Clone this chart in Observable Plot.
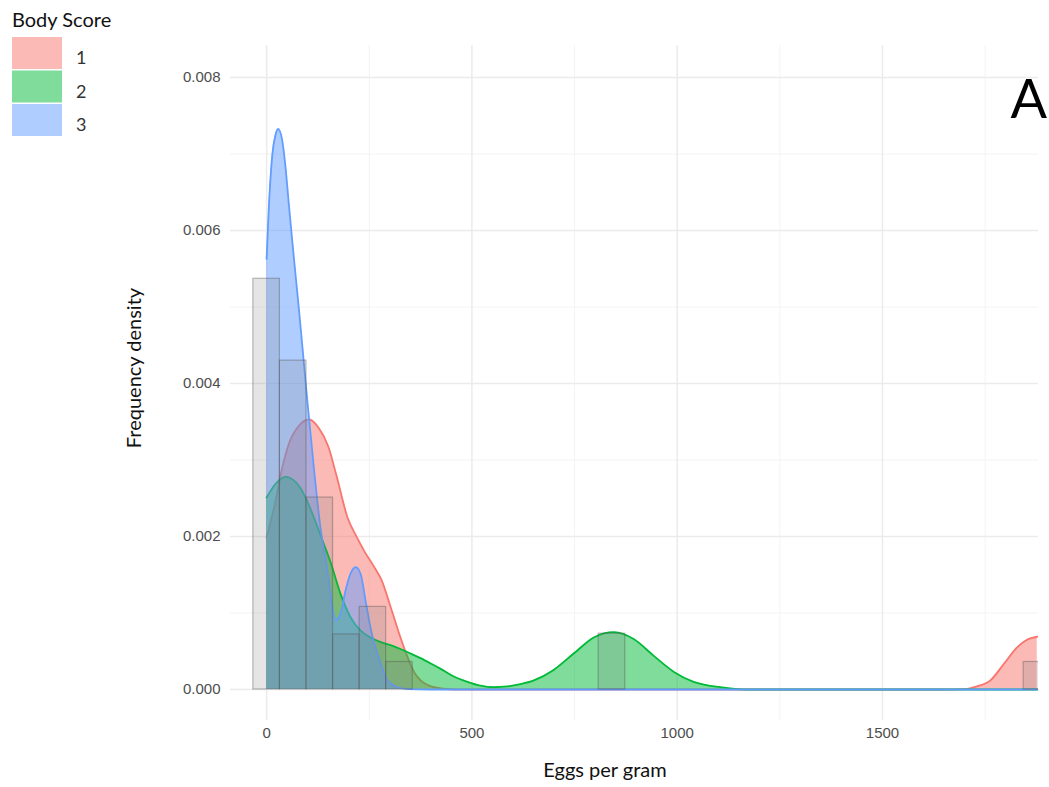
<!DOCTYPE html>
<html><head><meta charset="utf-8">
<script src="https://cdn.jsdelivr.net/npm/d3@7"></script>
<script src="https://cdn.jsdelivr.net/npm/@observablehq/plot@0.6"></script>
<style>
body{margin:0;background:#fff;}
#wrap{position:relative;width:1049px;height:787px;overflow:hidden;background:#fff;}
#wrap > svg{position:absolute;left:0;top:0;}
</style></head><body><div id="wrap"></div>
<script>
// ---- data ----
const scoreLabels = ["1", "2", "3"];
const scoreColors = ["#F8766D", "#00BA38", "#619CFF"];

// Body score 1 density
const score1X = [0, 22, 38, 54, 79, 103, 127, 150, 170, 197, 220, 240, 260, 280, 302, 326, 345, 360, 375, 400, 430, 460, 1650, 1700, 1730, 1763, 1795, 1828, 1852, 1877];
const score1Y = [0.00199, 0.00247, 0.0029, 0.00321, 0.00345, 0.00353, 0.00342, 0.00318, 0.0028, 0.00225, 0.00199, 0.00179, 0.00162, 0.00143, 0.00108, 0.00068, 0.0004, 0.00022, 0.00012, 0.00004, 0.00001, 0, 0, 0.000005, 0.00004, 0.00012, 0.00033, 0.00055, 0.00065, 0.00069];

// Body score 2 density
const score2X = [0, 22, 46, 71, 95, 115, 136, 156, 180, 204, 229, 253, 278, 302, 326, 351, 375, 400, 424, 456, 489, 521, 553, 586, 618, 651, 700, 748, 797, 846, 894, 943, 992, 1040, 1105, 1170, 1877];
const score2Y = [0.00251, 0.00269, 0.00278, 0.00271, 0.00251, 0.00225, 0.00195, 0.00166, 0.00125, 0.00095, 0.00077, 0.00068, 0.00062, 0.00058, 0.00053, 0.00047, 0.00041, 0.00034, 0.00027, 0.00017, 0.0001, 0.00005, 0.00003, 0.00004, 0.00007, 0.00012, 0.00026, 0.00047, 0.00068, 0.00075, 0.00066, 0.00044, 0.00023, 0.0001, 0.00003, 0, 0];

// Body score 3 density
const score3X = [0, 5, 14, 22, 28, 38, 46, 54, 63, 71, 79, 88, 99, 115, 131, 148, 160, 168, 180, 192, 204, 217, 229, 241, 253, 265, 278, 294, 318, 345, 400, 1877];
const score3Y = [0.00563, 0.00626, 0.0070, 0.00726, 0.00733, 0.00718, 0.00683, 0.00635, 0.00583, 0.00539, 0.00495, 0.00443, 0.00378, 0.0029, 0.00212, 0.00156, 0.00108, 0.00091, 0.00099, 0.00129, 0.00151, 0.0016, 0.00151, 0.00116, 0.00081, 0.00055, 0.00034, 0.00012, 0.00003, 0.000005, 0, 0];

// Histogram (all animals)
const binCenters = [0, 64.7, 129.4, 194.1, 258.8, 323.5, 841.1, 1876.3];
const binDensity = [0.00537, 0.0043, 0.00251, 0.00072, 0.00108, 0.00036, 0.00073, 0.00036];
const binWidth = 64.7;

// Axis ticks
const xMajor = [0, 500, 1000, 1500];
const xMinor = [250, 750, 1250, 1750];
const yMajor = [0, 0.002, 0.004, 0.006, 0.008];
const yMinor = [0.001, 0.003, 0.005, 0.007];

// ---- build ----
const curves = [
  {score: scoreLabels[0], xs: score1X, ys: score1Y},
  {score: scoreLabels[1], xs: score2X, ys: score2Y},
  {score: scoreLabels[2], xs: score3X, ys: score3Y}
];
const bins = binCenters.map((c, i) => ({x1: c - binWidth / 2, x2: c + binWidth / 2, y: binDensity[i]}));

const densityMarks = curves.flatMap(c => {
  const rows = c.xs.map((x, i) => ({score: c.score, x, y: c.ys[i]}));
  return [
    Plot.areaY(rows, {x: "x", y: "y", fill: "score", fillOpacity: 0.5, curve: "monotone-x"}),
    Plot.lineY(rows, {x: "x", y: "y", stroke: "score", strokeWidth: 1.8, curve: "monotone-x"})
  ];
});

const plot = Plot.plot({
  width: 1049, height: 787,
  marginLeft: 230, marginRight: 11, marginTop: 45, marginBottom: 67,
  x: {domain: [-88, 1880]},
  y: {domain: [-0.000405, 0.00842]},
  color: {domain: scoreLabels, range: scoreColors},
  style: {fontFamily: "'Liberation Sans', Arial, sans-serif", fontSize: "15px", color: "#4d4d4d", background: "#fff"},
  marks: [
    Plot.ruleX(xMinor, {stroke: "#f3f3f3", strokeWidth: 1}),
    Plot.ruleY(yMinor, {stroke: "#f3f3f3", strokeWidth: 1}),
    Plot.ruleX(xMajor, {stroke: "#ebebeb", strokeWidth: 1.5}),
    Plot.ruleY(yMajor, {stroke: "#ebebeb", strokeWidth: 1.5}),
    ...densityMarks,
    Plot.rect(bins, {x1: "x1", x2: "x2", y1: 0, y2: "y", fill: "#7f7f7f", fillOpacity: 0.2, stroke: "#555", strokeOpacity: 0.4, strokeWidth: 1.2, clip: true}),
    Plot.axisX({ticks: xMajor, tickSize: 0, tickPadding: 7, label: null, tickFormat: d => String(d)}),
    Plot.axisY({ticks: yMajor, tickSize: 0, tickPadding: 10, label: null, tickFormat: d3.format(".3f")})
  ]
});
const wrap = document.getElementById("wrap");
wrap.appendChild(plot);

// ---- overlay: legend, axis titles, panel tag ----
const ov = d3.select(wrap).append("svg")
  .attr("width", 1049).attr("height", 787)
  .style("font-family", "Lato, 'Open Sans', sans-serif");

ov.append("text").attr("x", 12).attr("y", 27).attr("font-size", 20).attr("fill", "#111").text("Body Score");
const sw = ov.selectAll("g.sw").data(scoreLabels).join("g");
sw.append("rect").attr("x", 12).attr("y", (d, i) => 37 + i * 33.5).attr("width", 50).attr("height", 32)
  .attr("fill", (d, i) => scoreColors[i]).attr("fill-opacity", 0.5);
sw.append("text").attr("x", 76).attr("y", (d, i) => 37 + i * 33.5 + 27).attr("font-size", 18).attr("fill", "#333").text(d => d);

ov.append("text").attr("transform", "translate(141,368) rotate(-90)").attr("text-anchor", "middle")
  .attr("font-size", 20).attr("fill", "#111").text("Frequency density");
ov.append("text").attr("x", 605).attr("y", 777).attr("text-anchor", "middle")
  .attr("font-size", 20).attr("fill", "#111").text("Eggs per gram");
ov.append("text").attr("x", 1047).attr("y", 118).attr("text-anchor", "end")
  .attr("font-size", 54).attr("fill", "#000").text("A");
</script></body></html>
